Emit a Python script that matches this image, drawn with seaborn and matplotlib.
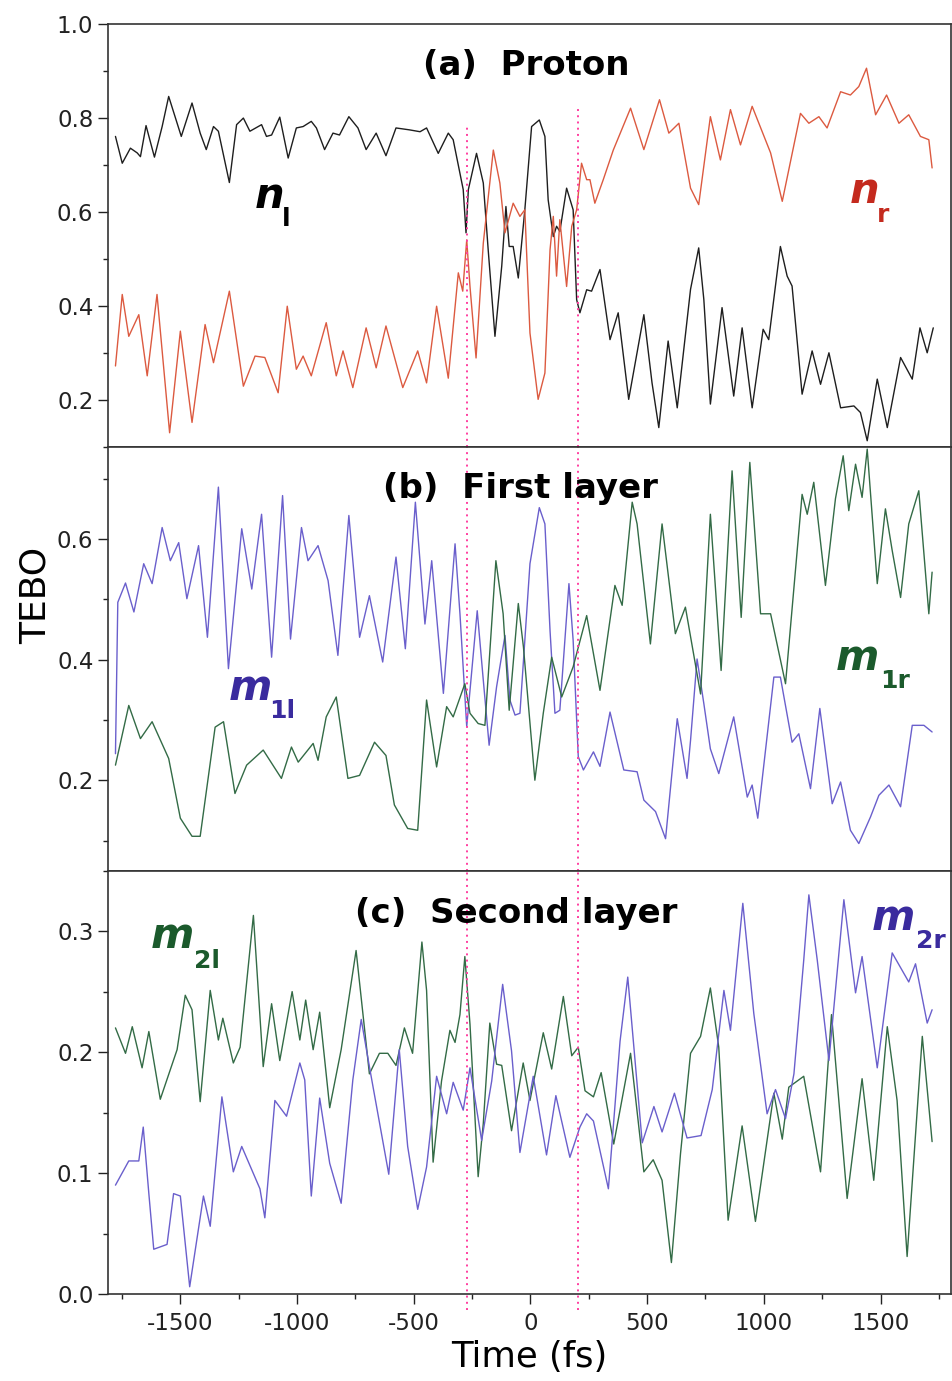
import numpy as np
import matplotlib
matplotlib.use("Agg")
import matplotlib.pyplot as plt
from matplotlib.ticker import MultipleLocator
import seaborn as sns

# ------------------------------------------------------------------
# traced TEBO series (time in fs)
# ------------------------------------------------------------------
# (a) proton
t_nl = [-1778, -1749, -1714, -1685, -1671, -1647, -1611, -1578, -1550, -1496,
        -1450, -1415, -1389, -1358, -1337, -1290, -1259, -1230, -1202, -1152,
        -1131, -1109, -1074, -1038, -1003, -974, -939, -917, -882, -846,
        -818, -778, -739, -704, -661, -619, -576, -519,
        -473, -445, -395, -352, -331, -288, -276, -266, -231, -202,
        -181, -152, -123, -105, -91, -74, -52, -24, 5, 38,
        62, 76, 98, 112, 126, 155, 183, 198, 212, 241,
        262, 298, 341, 376,
        421, 486, 521, 550, 590, 629, 686, 721, 743,
        771, 821, 871, 907, 950, 997, 1021, 1071, 1100, 1121,
        1164, 1207, 1243, 1279, 1329, 1386, 1414, 1443, 1486, 1529,
        1586, 1636, 1669, 1700, 1726]
n_l = [0.761, 0.704, 0.736, 0.726, 0.718, 0.784, 0.717, 0.782, 0.846, 0.761,
       0.832, 0.768, 0.733, 0.782, 0.772, 0.663, 0.786, 0.800, 0.772, 0.786,
       0.761, 0.764, 0.802, 0.715, 0.779, 0.782, 0.793, 0.779, 0.733, 0.768,
       0.764, 0.803, 0.779, 0.733, 0.768, 0.720, 0.779, 0.775,
       0.771, 0.779, 0.725, 0.768, 0.754, 0.648, 0.556, 0.648, 0.725, 0.662,
       0.520, 0.336, 0.485, 0.612, 0.527, 0.527, 0.460, 0.605, 0.782, 0.796,
       0.761, 0.626, 0.548, 0.570, 0.559, 0.651, 0.605, 0.414, 0.386, 0.435,
       0.432, 0.478, 0.329, 0.386,
       0.202, 0.382, 0.237, 0.142, 0.326, 0.184, 0.436, 0.524, 0.414,
       0.192, 0.397, 0.209, 0.354, 0.184, 0.351, 0.329, 0.527, 0.464, 0.443,
       0.213, 0.305, 0.234, 0.301, 0.184, 0.188, 0.174, 0.114, 0.245, 0.142,
       0.291, 0.245, 0.354, 0.301, 0.354]

t_nr = [-1778, -1749, -1721, -1678, -1642, -1600, -1546, -1500, -1450, -1394,
        -1358, -1290, -1230, -1180, -1138, -1081, -1042, -1003, -974, -939,
        -875, -832, -803, -761, -704, -661, -619, -547, -483,
        -445, -402, -352, -309, -290, -273, -259, -233, -202, -159,
        -131, -109, -74, -45, -24, -2, 33, 62, 84, 98,
        112, 126, 155, 177, 198, 219, 241, 255, 276, 312,
        355, 429,
        486, 553, 593, 636, 686, 721, 771, 814, 857, 900,
        950, 1029, 1079, 1157, 1193, 1236, 1271, 1329, 1371, 1407,
        1440, 1479, 1526, 1579, 1621, 1671, 1707, 1721]
n_r = [0.273, 0.425, 0.336, 0.382, 0.252, 0.425, 0.131, 0.347, 0.153, 0.361,
       0.280, 0.432, 0.230, 0.294, 0.291, 0.216, 0.400, 0.266, 0.294, 0.252,
       0.365, 0.252, 0.305, 0.227, 0.354, 0.269, 0.358, 0.227, 0.305,
       0.237, 0.400, 0.247, 0.471, 0.432, 0.541, 0.442, 0.290, 0.534, 0.732,
       0.662, 0.556, 0.619, 0.591, 0.605, 0.343, 0.202, 0.258, 0.520, 0.591,
       0.464, 0.584, 0.442, 0.570, 0.605, 0.704, 0.669, 0.669, 0.619, 0.669,
       0.732, 0.821,
       0.733, 0.839, 0.768, 0.789, 0.651, 0.616, 0.803, 0.711, 0.818, 0.743,
       0.825, 0.726, 0.623, 0.810, 0.789, 0.803, 0.779, 0.856, 0.849, 0.867,
       0.906, 0.807, 0.849, 0.789, 0.807, 0.761, 0.754, 0.694]

# (b) first layer
t_m1l = [-1778, -1768, -1735, -1699, -1657, -1621, -1578, -1543, -1507, -1472,
         -1422, -1384, -1337, -1294, -1237, -1194, -1152, -1109, -1062, -1028,
         -981, -953, -910, -867, -825, -778, -732, -690, -633, -576,
         -536, -493,
         -452, -423, -373, -323, -302, -273, -228, -202, -177, -145,
         -109, -88, -66, -45, -2, 38, 62, 84, 105, 126,
         165, 183, 205, 227, 270, 298, 341,
         400, 457, 486, 536,
         579, 629, 671, 686, 714, 743, 771, 807, 871, 929,
         950, 974, 1043, 1071, 1121, 1150, 1200, 1240, 1293, 1329,
         1371, 1407, 1457, 1493, 1536, 1586, 1636, 1686, 1721]
m_1l = [0.244, 0.495, 0.527, 0.479, 0.559, 0.526, 0.619, 0.564, 0.594, 0.501,
        0.589, 0.437, 0.686, 0.385, 0.617, 0.517, 0.641, 0.404, 0.672, 0.434,
        0.619, 0.564, 0.589, 0.531, 0.407, 0.639, 0.437, 0.506, 0.396, 0.570,
        0.418, 0.661,
        0.459, 0.564, 0.344, 0.592, 0.476, 0.289, 0.481, 0.366, 0.258, 0.355,
        0.440, 0.333, 0.308, 0.311, 0.559, 0.652, 0.625, 0.448, 0.311, 0.316,
        0.526, 0.432, 0.239, 0.217, 0.247, 0.223, 0.313,
        0.217, 0.214, 0.167, 0.148,
        0.103, 0.302, 0.203, 0.266, 0.401, 0.327, 0.252, 0.211, 0.305, 0.172,
        0.192, 0.137, 0.371, 0.371, 0.263, 0.277, 0.186, 0.319, 0.161, 0.197,
        0.117, 0.095, 0.139, 0.175, 0.192, 0.156, 0.291, 0.291, 0.280]

t_m1r = [-1778, -1721, -1671, -1621, -1550, -1500, -1450, -1415, -1386, -1351,
         -1315, -1266, -1216, -1145, -1067, -1024, -995, -931, -910, -875,
         -832, -782, -732, -668, -619, -583, -526, -483,
         -445, -402, -359, -331, -281, -259, -224, -195, -148, -117,
         -91, -52, -30, 19, 55, 91, 134, 183, 241, 298,
         362, 393, 436, 457, 514, 564, 621, 664, 729,
         771, 817, 864, 903, 940, 986, 1029, 1093, 1164, 1186,
         1214, 1264, 1307, 1340, 1364, 1393, 1421, 1443, 1486, 1521,
         1550, 1586, 1621, 1664, 1707, 1721]
m_1r = [0.225, 0.324, 0.269, 0.297, 0.236, 0.137, 0.107, 0.107, 0.189, 0.288,
        0.297, 0.178, 0.225, 0.250, 0.203, 0.255, 0.230, 0.261, 0.233, 0.305,
        0.338, 0.203, 0.208, 0.263, 0.241, 0.159, 0.120, 0.117,
        0.333, 0.222, 0.322, 0.305, 0.360, 0.311, 0.294, 0.291, 0.564, 0.476,
        0.316, 0.493, 0.421, 0.200, 0.311, 0.404, 0.338, 0.388, 0.473, 0.349,
        0.523, 0.490, 0.661, 0.625, 0.426, 0.625, 0.443, 0.487, 0.343,
        0.641, 0.382, 0.713, 0.470, 0.727, 0.476, 0.476, 0.360, 0.674, 0.641,
        0.694, 0.523, 0.667, 0.738, 0.647, 0.724, 0.669, 0.749, 0.526, 0.650,
        0.581, 0.503, 0.625, 0.680, 0.476, 0.545]

# (c) second layer
t_m2l = [-1778, -1735, -1706, -1664, -1635, -1586, -1514, -1479, -1450, -1415,
         -1372, -1337, -1318, -1273, -1244, -1187, -1145, -1109, -1074, -1021,
         -988, -963, -931, -903, -860, -811, -747, -690, -647, -611,
         -576, -540, -505, -465, -445, -417, -381, -345, -323, -302,
         -281, -259, -224, -202, -174, -145, -123, -81, -31, -2,
         55, 91, 141, 177, 205, 234, 270, 303, 357, 429,
         486, 526, 564, 604, 643, 686,
         729, 771, 807, 847, 907, 964, 1043, 1079, 1107, 1171,
         1243, 1290, 1357, 1421, 1471, 1529, 1571, 1614, 1679, 1721]
m_2l = [0.220, 0.199, 0.221, 0.187, 0.217, 0.161, 0.202, 0.247, 0.235, 0.159,
        0.251, 0.210, 0.228, 0.191, 0.204, 0.313, 0.188, 0.240, 0.193, 0.250,
        0.210, 0.243, 0.202, 0.233, 0.154, 0.202, 0.284, 0.182, 0.199, 0.199,
        0.189, 0.220, 0.199, 0.291, 0.251, 0.109, 0.176, 0.218, 0.208, 0.231,
        0.279, 0.223, 0.097, 0.141, 0.224, 0.190, 0.189, 0.135, 0.191, 0.160,
        0.216, 0.186, 0.246, 0.197, 0.204, 0.168, 0.163, 0.183, 0.124, 0.199,
        0.101, 0.111, 0.094, 0.026, 0.116, 0.199,
        0.213, 0.253, 0.204, 0.061, 0.139, 0.060, 0.166, 0.128, 0.171, 0.180,
        0.101, 0.231, 0.079, 0.178, 0.094, 0.221, 0.160, 0.031, 0.213, 0.126]

t_m2r = [-1778, -1721, -1678, -1659, -1635, -1614, -1557, -1529, -1500, -1460,
         -1401, -1372, -1322, -1273, -1237, -1159, -1138, -1095, -1045, -988,
         -967, -939, -903, -860, -811, -761, -725, -690, -607, -562,
         -526, -483, -445, -402, -359, -331, -288, -259, -209, -166,
         -119, -81, -45, 12, 69, 109, 169, 212, 241, 270,
         334, 384, 417, 479, 529, 564, 617, 671, 731, 779,
         829, 857, 910, 957, 1014, 1050, 1093, 1129, 1171, 1193,
         1229, 1279, 1343, 1393, 1421, 1486, 1550, 1621, 1650, 1700, 1721]
m_2r = [0.090, 0.110, 0.110, 0.138, 0.083, 0.037, 0.041, 0.083, 0.081, 0.006,
        0.081, 0.056, 0.163, 0.101, 0.122, 0.087, 0.063, 0.160, 0.147, 0.191,
        0.177, 0.081, 0.162, 0.108, 0.075, 0.177, 0.227, 0.188, 0.099, 0.202,
        0.122, 0.070, 0.105, 0.180, 0.149, 0.175, 0.152, 0.187, 0.127, 0.176,
        0.256, 0.201, 0.117, 0.180, 0.115, 0.164, 0.113, 0.138, 0.149, 0.143,
        0.087, 0.209, 0.262, 0.125, 0.155, 0.134, 0.166, 0.129, 0.131, 0.169,
        0.251, 0.218, 0.323, 0.232, 0.149, 0.169, 0.145, 0.182, 0.276, 0.330,
        0.276, 0.193, 0.326, 0.249, 0.279, 0.187, 0.282, 0.258, 0.273, 0.224, 0.235]

# transition markers (fs)
t_marks = [-270, 205]
mark_top_a = [0.782, 0.821]

# ------------------------------------------------------------------
# styling
# ------------------------------------------------------------------
sns.set_style("ticks")
plt.rcParams['font.family'] = ['DejaVu Sans']
plt.rcParams['axes.unicode_minus'] = False

C_BLACK = "#1e1e1e"
C_RED = "#dc5a40"
C_BLUE = "#6a5fcc"
C_GREEN = "#336b46"
C_LBL_RED = "#c42a1e"
C_LBL_BLUE = "#3a2b9e"
C_LBL_GREEN = "#1b5a2c"
C_MARK = "#ff3ea0"

W, H = 953, 1381
fig, axes = plt.subplots(3, 1, sharex=True, figsize=(W / 100, H / 100), dpi=100)
fig.subplots_adjust(left=108 / W, right=951 / W, top=1 - 24 / H,
                    bottom=1 - 1294 / H, hspace=0)

series = [
    [(t_nl, n_l, C_BLACK), (t_nr, n_r, C_RED)],
    [(t_m1l, m_1l, C_BLUE), (t_m1r, m_1r, C_GREEN)],
    [(t_m2l, m_2l, C_GREEN), (t_m2r, m_2r, C_BLUE)],
]
ylims = [(0.1, 1.0), (0.05, 0.752), (0.0, 0.35)]
ymajor = [0.2, 0.2, 0.1]
yminor = [0.1, 0.1, 0.05]

for ax, ser, yl, mj, mn in zip(axes, series, ylims, ymajor, yminor):
    for tt, vv, col in ser:
        sns.lineplot(x=tt, y=vv, ax=ax, color=col, linewidth=1.0,
                     estimator=None, sort=False)
    ax.set_xlim(-1810, 1802)
    ax.set_ylim(*yl)
    ax.yaxis.set_major_locator(MultipleLocator(mj))
    ax.yaxis.set_minor_locator(MultipleLocator(mn))
    ax.xaxis.set_major_locator(MultipleLocator(500))
    ax.xaxis.set_minor_locator(MultipleLocator(250))
    ax.yaxis.set_major_formatter(plt.FuncFormatter(lambda v, p: f"{v:.1f}"))
    ax.tick_params(which='both', direction='out', right=False, top=False,
                   colors="#222222", labelsize=16.5, width=1.0)
    ax.tick_params(which='major', length=7, pad=3.5)
    ax.tick_params(which='minor', length=3.8)
    for sp in ax.spines.values():
        sp.set_linewidth(1.2)
        sp.set_color("#333333")
    ax.set_xlabel("")
    ax.set_ylabel("")

axes[2].tick_params(axis='x', which='major', pad=6)

# dotted transition lines
for x, top in zip(t_marks, mark_top_a):
    axes[0].plot([x, x], [0.1, top], ls=(0, (1, 2.2)), color=C_MARK, lw=1.4)
    axes[1].plot([x, x], [0.05, 0.752], ls=(0, (1, 2.2)), color=C_MARK, lw=1.4)
    axes[2].plot([x, x], [-0.013, 0.35], ls=(0, (1, 2.2)), color=C_MARK,
                 lw=1.4, clip_on=False)


def px(x, y):
    return x / W, 1 - y / H


# panel titles
titles = [("(a)  Proton", 526, 75), ("(b)  First layer", 520, 498),
          ("(c)  Second layer", 516, 923)]
for txt, x, y in titles:
    fig.text(*px(x, y), txt, ha='center', va='baseline', fontsize=24.5,
             fontweight='bold', color="black")

# curve labels: (letter, subscript, colour, letter x, letter baseline, sub x, sub baseline)
labels = [
    ("n", "l", "black", 255, 208, 282, 226),
    ("n", "r", C_LBL_RED, 850, 203, 877, 222),
    ("m", "1l", C_LBL_BLUE, 229, 700, 269, 718),
    ("m", "1r", C_LBL_GREEN, 836, 670, 880, 688),
    ("m", "2l", C_LBL_GREEN, 151, 948, 194, 968),
    ("m", "2r", C_LBL_BLUE, 872, 930, 916, 948),
]
for let, sub, col, lx, ly, sx, sy in labels:
    fig.text(*px(lx, ly), let, ha='left', va='baseline', fontsize=30,
             fontweight='bold', fontstyle='italic', color=col)
    fig.text(*px(sx, sy), sub, ha='left', va='baseline', fontsize=18,
             fontweight='bold', color=col)

# axis titles
fig.text(*px(36, 595), "TEBO", rotation=90, ha='center', va='center',
         fontsize=26, color="black")
fig.text(*px(529, 1357), "Time (fs)", ha='center', va='center',
         fontsize=25.5, color="black")

fig.savefig("out.png", dpi=100)
